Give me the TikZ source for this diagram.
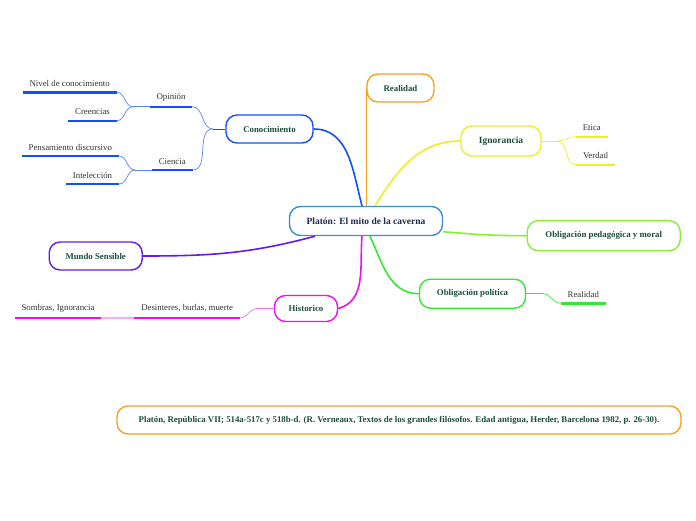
\documentclass[tikz,border=0pt]{standalone}
\usepackage{fontspec}
\setmainfont{Liberation Serif}
\usetikzlibrary{positioning}
\definecolor{tgreen}{HTML}{1B4D3E}
\definecolor{tnavy}{HTML}{1A2B4C}
\definecolor{lgray}{HTML}{333333}
\definecolor{ccentre}{HTML}{3A8FD0}
\definecolor{cblue}{HTML}{1450F0}
\definecolor{corange}{HTML}{F7A020}
\definecolor{cyellow}{HTML}{EEEE22}
\definecolor{clime}{HTML}{88EE33}
\definecolor{cgreen}{HTML}{33E833}
\definecolor{cpurple}{HTML}{6619EE}
\definecolor{cmagenta}{HTML}{EE11EE}

\begin{document}
\begin{tikzpicture}
   [x=1pt,y=-1pt,
    topic/.style={draw,rounded corners=11pt,line width=1.4pt,fill=white,
      font=\fontsize{8.8}{10}\selectfont\bfseries,text=tgreen,inner sep=2pt},
    leaf/.style={anchor=south,inner xsep=0pt,inner ysep=5.5pt,
      font=\fontsize{8.8}{10}\selectfont,text=lgray},
    branch/.style={line width=1.6pt},
    twig/.style={line width=0.7pt},
    bar/.style={line width=2.4pt}]
\useasboundingbox (0,0) rectangle (696,520);
% main topics
\node [topic,draw=ccentre,text=tnavy,font=\fontsize{9.5}{11}\selectfont\bfseries,
	minimum width=153pt,minimum height=29pt] (centre) at (366,221) {Platón: El mito de la caverna};
\node [topic,draw=cblue,minimum width=87pt,minimum height=28pt] (conoc) at (269.5,129) {Conocimiento};
\node [topic,draw=corange,minimum width=67pt,minimum height=28pt] (real) at (400.5,88) {Realidad};
\node [topic,draw=cyellow,font=\fontsize{9.5}{11}\selectfont\bfseries,
	minimum width=80pt,minimum height=30pt] (ignor) at (501,141) {Ignorancia};
\node [topic,draw=clime,minimum width=153pt,minimum height=30pt] (pedag) at (603.7,235.7) {Obligación pedagógica y moral};
\node [topic,draw=cgreen,minimum width=106pt,minimum height=29pt] (polit) at (472.5,293.7) {Obligación política};
\node [topic,draw=cpurple,minimum width=93pt,minimum height=28pt] (mundo) at (95.7,256) {Mundo Sensible};
\node [topic,draw=cmagenta,minimum width=63pt,minimum height=26pt] (histo) at (306,308.5) {Historico};
\node [topic,draw=corange,minimum width=564pt,minimum height=28pt] (fuente) at (399,420)
	{Platón, República VII; 514a-517c y 518b-d. (R. Verneaux, Textos de los grandes filósofos. Edad antigua, Herder, Barcelona 1982, p. 26-30).};
% leaves
\node [leaf,minimum width=42pt] (opin) at (171,106.7) {Opinión};
\node [leaf,minimum width=40pt] (cienc) at (172.3,170) {Ciencia};
\node [leaf,minimum width=94pt] (nivel) at (69.7,92.3) {Nivel de conocimiento};
\node [leaf,minimum width=48pt] (creen) at (92.5,120.7) {Creencias};
\node [leaf,minimum width=97pt] (pensa) at (70.3,156) {Pensamiento discursivo};
\node [leaf,minimum width=53pt] (intel) at (92.5,184) {Intelección};
\node [leaf,minimum width=31pt] (etica) at (591.8,136.7) {Etica};
\node [leaf,minimum width=39pt] (verdad) at (595.5,164.7) {Verdad};
\node [leaf,minimum width=45pt] (realb) at (583.3,303.3) {Realidad};
\node [leaf,minimum width=106pt] (desin) at (187.2,317.7) {Desinteres, burlas, muerte};
\node [leaf,minimum width=86pt] (sombr) at (58,317.7) {Sombras, Ignorancia};
% bars under the leaves
\foreach \n/\c in {opin/cblue,cienc/cblue,nivel/cblue,creen/cblue,pensa/cblue,intel/cblue,
	etica/cyellow,verdad/cyellow,realb/cgreen,desin/cmagenta,sombr/cmagenta}
	\draw [bar,\c] (\n.south west) -- (\n.south east);
% branches from the centre
\draw [branch,cblue] (conoc.east) to[out=0,in=105] (centre.north -| 362,0);
\draw [branch,corange] (centre.north -| real.west) -- (real.west);
\draw [branch,cyellow] (centre.north -| 375,0) to[out=58,in=180] (ignor.west);
\draw [branch,clime] (centre.east |- 0,231.7) to[out=-5,in=180] (pedag.west);
\draw [branch,cgreen] (centre.south -| 370,0) to[out=-65,in=180] (polit.west);
\draw [branch,cpurple] (centre.south -| 315,0) to[out=195,in=0] (mundo.east);
\draw [branch,cmagenta] (centre.south -| 362,0) to[out=-95,in=15] (histo.east);
% twigs
\coordinate (fconoc) at (213,129);
\coordinate (fopin) at (133,106.7);
\coordinate (fcienc) at (135,170);
\coordinate (fignor) at (557,141);
\coordinate (fpolit) at (543,293.7);
\coordinate (fhisto) at (257,308.5);
\draw [twig,cblue] (conoc.west) -- (fconoc);
\draw [twig,cblue!70] (fconoc) to[out=180,in=0] (opin.south east);
\draw [twig,cblue!70] (fconoc) to[out=180,in=0] (cienc.south east);
\draw [twig,cblue!70] (opin.south west) -- (fopin);
\draw [twig,cblue!70] (fopin) to[out=180,in=0] (nivel.south east);
\draw [twig,cblue!70] (fopin) to[out=180,in=0] (creen.south east);
\draw [twig,cblue!70] (cienc.south west) -- (fcienc);
\draw [twig,cblue!70] (fcienc) to[out=180,in=0] (pensa.south east);
\draw [twig,cblue!70] (fcienc) to[out=180,in=0] (intel.south east);
\draw [twig,cyellow] (ignor.east) -- (fignor);
\draw [twig,cyellow] (fignor) to[out=0,in=180] (etica.south west);
\draw [twig,cyellow] (fignor) to[out=0,in=180] (verdad.south west);
\draw [twig,cgreen] (polit.east) -- (fpolit);
\draw [twig,cgreen] (fpolit) to[out=0,in=180] (realb.south west);
\draw [twig,cmagenta!60] (histo.west) -- (fhisto);
\draw [twig,cmagenta!60] (fhisto) to[out=180,in=0] (desin.south east);
\draw [twig,cmagenta!35,bar] (sombr.south east) -- (desin.south west);
\end{tikzpicture}
\end{document}
